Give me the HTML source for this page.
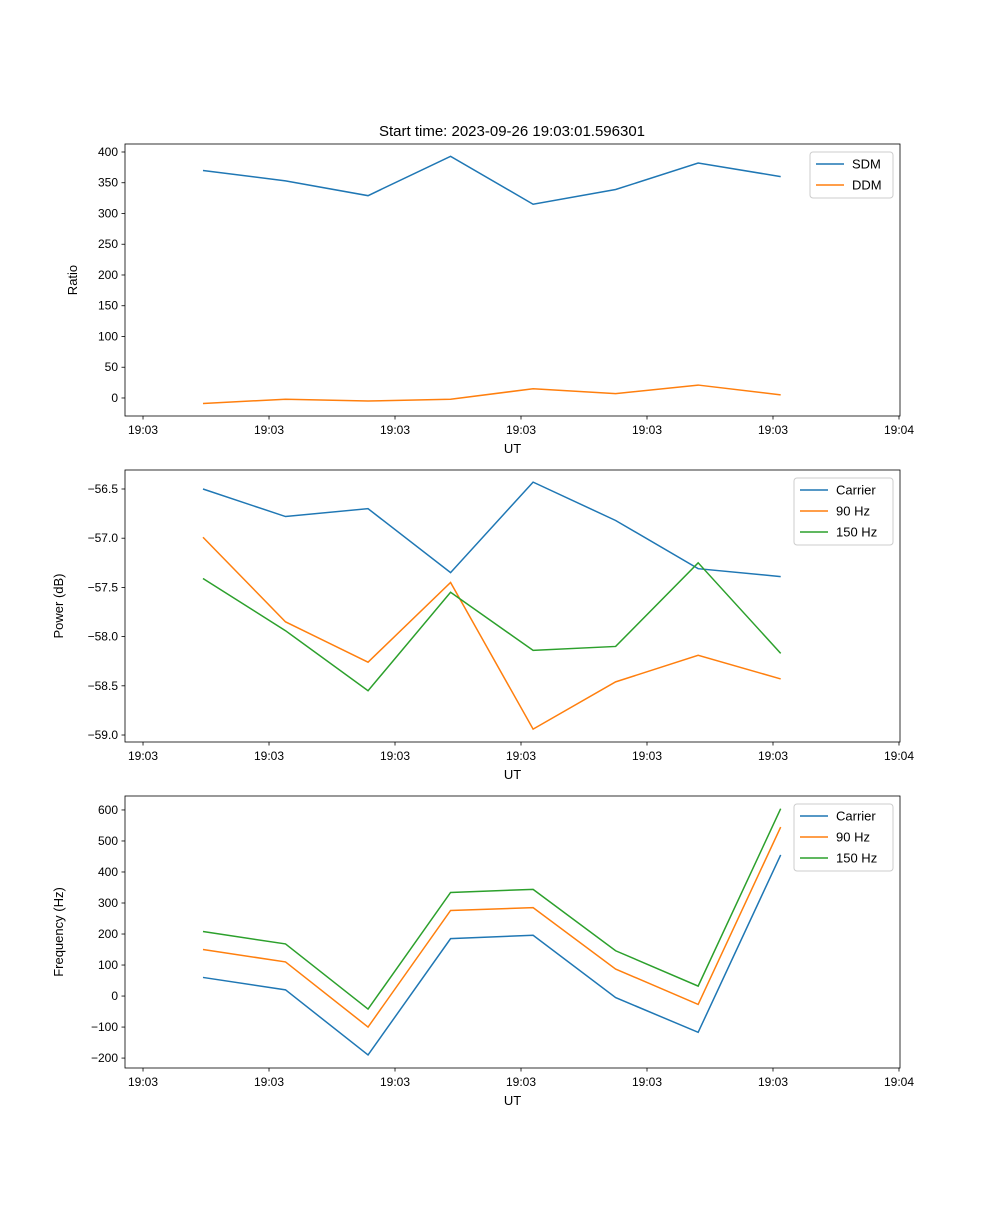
<!DOCTYPE html>
<html><head><meta charset="utf-8"><style>body{margin:0;background:#fff}svg{font-family:"Liberation Sans","DejaVu Sans",sans-serif}</style></head>
<body>
<svg id="c" width="1000" height="1200" viewBox="0 0 1000 1200"></svg>
<script>
const times=[4.76,11.31,17.86,24.41,30.96,37.51,44.06,50.61];
const xTickVals=[0,10,20,30,40,50,60];
const xTickLabels=["19:03","19:03","19:03","19:03","19:03","19:03","19:04"];
const sdm=[370,353,329,393,315,339,382,360];
const ddm=[-9,-2,-5,-2,15,7,21,5];
const pCarrier=[-56.50,-56.78,-56.70,-57.35,-56.43,-56.82,-57.31,-57.39];
const p90=[-56.99,-57.85,-58.26,-57.45,-58.94,-58.46,-58.19,-58.43];
const p150=[-57.41,-57.94,-58.55,-57.55,-58.14,-58.10,-57.25,-58.17];
const fCarrier=[60,20,-190,185,196,-5,-117,455];
const f90=[150,110,-100,276,285,87,-27,545];
const f150=[208,168,-42,334,344,146,32,604];
const ratioTicks=[0,50,100,150,200,250,300,350,400];
const powerTicks=[-59.0,-58.5,-58.0,-57.5,-57.0,-56.5];
const freqTicks=[-200,-100,0,100,200,300,400,500,600];

const svg=document.getElementById('c');const NS='http://www.w3.org/2000/svg';
function el(t,a,p){const e=document.createElementNS(NS,t);for(const k in a)e.setAttribute(k,a[k]);(p||svg).appendChild(e);return e;}
const X0=125,X1=900,xmin=-1.43,xmax=60.08;
const sx=v=>X0+(v-xmin)/(xmax-xmin)*(X1-X0);
const C=['#1f77b4','#ff7f0e','#2ca02c'];
function panel(name,top,bot,ymin,ymax,yticks,fmt,ylabel,series,labels,legW){
  const g=el('g',{});
  
  
  const sy=v=>bot-(v-ymin)/(ymax-ymin)*(bot-top);
  series.forEach((s,i)=>{
    const pl=el('polyline',{points:s.map((v,j)=>sx(times[j])+','+sy(v)).join(' '),fill:'none',stroke:C[i],'stroke-width':1.5},g);
    
    
  });
  el('rect',{x:X0,y:top,width:X1-X0,height:bot-top,fill:'none',stroke:'#000','stroke-width':0.8},g);
  xTickVals.forEach((v,i)=>{const x=sx(v);el('line',{x1:x,x2:x,y1:bot,y2:bot+3.5,stroke:'#000','stroke-width':0.8},g);
    const t=el('text',{x:x,y:bot+18,'font-size':12,'text-anchor':'middle'},g);t.textContent=xTickLabels[i];
    });
  yticks.forEach(v=>{const y=sy(v);el('line',{x1:X0,x2:X0-3.5,y1:y,y2:y,stroke:'#000','stroke-width':0.8},g);
    const t=el('text',{x:X0-7,y:y+4,'font-size':12,'text-anchor':'end'},g);t.textContent=fmt(v).replace('-','\u2212');
    });
  const xl=el('text',{x:(X0+X1)/2,y:bot+37,'font-size':13,'text-anchor':'middle'},g);xl.textContent='UT';
  
  const lx=X0-(name==='ratio'?48:62),ly=(top+bot)/2;
  const yl=el('text',{x:lx,y:ly,'font-size':13,'text-anchor':'middle',transform:`rotate(-90 ${lx} ${ly})`},g);yl.textContent=ylabel;
  
  const L=el('g',{},g);
  const lx0=X1-7-legW,ly0=top+8;
  el('rect',{x:lx0,y:ly0,width:legW,height:labels.length*21+4,fill:'#fff',stroke:'#ccc',rx:3},L);
  labels.forEach((lb,i)=>{const yy=ly0+12+i*21;
    el('line',{x1:lx0+6,x2:lx0+34,y1:yy,y2:yy,stroke:C[i],'stroke-width':1.5},L);
    const t=el('text',{x:lx0+42,y:yy+4.5,'font-size':13},L);t.textContent=lb;
    });
}
const tt=el('text',{x:512,y:136,'font-size':15,'text-anchor':'middle'});tt.textContent='Start time: 2023-09-26 19:03:01.596301';

panel('ratio',144,416,-29.3,413,ratioTicks,v=>String(v),'Ratio',[sdm,ddm],['SDM','DDM'],83);
panel('power',470,742,-59.071,-56.307,powerTicks,v=>v.toFixed(1),'Power (dB)',[pCarrier,p90,p150],['Carrier','90 Hz','150 Hz'],99);
panel('frequency',796,1068,-232,645,freqTicks,v=>String(v),'Frequency (Hz)',[fCarrier,f90,f150],['Carrier','90 Hz','150 Hz'],99);
</script>
</body></html>
